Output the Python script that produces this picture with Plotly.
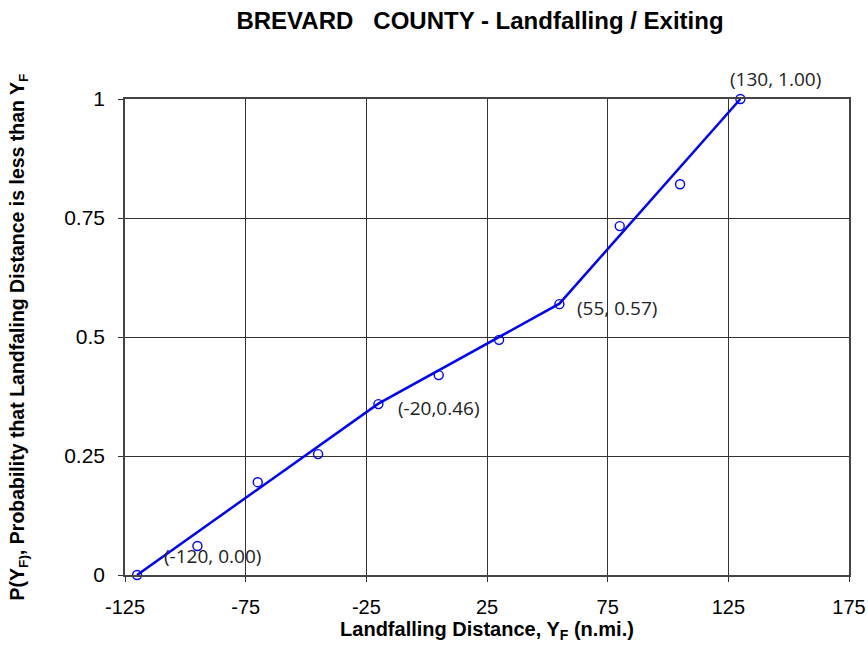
import plotly.graph_objects as go

# observed points
pt_x = [-120, -95, -70, -45, -20, 5, 30, 55, 80, 105, 130]
pt_y = [0.0, 0.061, 0.195, 0.254, 0.359, 0.42, 0.494, 0.569, 0.733, 0.821, 1.0]

# fitted piecewise line
fit_x = [-120, -20, 55, 130]
fit_y = [0.0, 0.36, 0.57, 1.0]

# labels
lab_x = [-120, -20, 55, 130]
lab_y = [0.0, 0.359, 0.569, 1.0]
lab_text = ["(-120, 0.00)", "(-20,0.46)", "(55, 0.57)", "(130, 1.00)"]
lab_dx = [25, 18, 16, -12]
lab_dy = [19, -4, -4, 20]

x_ticks = [-125, -75, -25, 25, 75, 125, 175]
x_ticklabels = ["-125", "-75", "-25", "25", "75", "125", "175"]
y_ticks = [0, 0.25, 0.5, 0.75, 1]
y_ticklabels = ["0", "0.25", "0.5", "0.75", "1"]

fig = go.Figure()
fig.add_trace(go.Scatter(x=fit_x, y=fit_y, mode="lines",
                         line=dict(color="#0000ff", width=2.5), showlegend=False,
                         cliponaxis=False))
fig.add_trace(go.Scatter(x=pt_x, y=pt_y, mode="markers",
                         marker=dict(symbol="circle-open", size=9, color="#0000ff",
                                     line=dict(width=1.4, color="#0000ff")),
                         showlegend=False, cliponaxis=False))

for x, y, t, dx, dy in zip(lab_x, lab_y, lab_text, lab_dx, lab_dy):
    fig.add_annotation(x=x, y=y, text=t, showarrow=False, xanchor="left", yanchor="middle",
                       xshift=dx, yshift=dy,
                       font=dict(family="Open Sans", size=19, color="#222222"))

fig.update_layout(
    width=868, height=658,
    margin=dict(l=125, r=19, t=99, b=83, autoexpand=False),
    paper_bgcolor="white", plot_bgcolor="white",
    title=dict(text="<b>BREVARD&nbsp;&nbsp; COUNTY - Landfalling / Exiting</b>",
               x=0.553, xanchor="center", y=0.968, yanchor="middle",
               font=dict(family="Liberation Sans", size=24, color="black")),
    font=dict(family="Liberation Sans", color="black"),
)
fig.update_xaxes(range=[-125, 175], tickvals=x_ticks, ticktext=x_ticklabels, ticks="outside",
                 ticklen=5, tickcolor="#333333", showgrid=True, gridcolor="#333333", gridwidth=1,
                 showline=True, linecolor="#444444", linewidth=1.5, mirror=True, zeroline=False,
                 automargin=False, ticklabelstandoff=8, ticklabeloverflow="allow",
                 tickfont=dict(size=20, family="Liberation Sans"),
                 title=dict(text="<b>Landfalling Distance, Y<sub>F</sub> (n.mi.)</b>",
                            font=dict(size=20, family="Liberation Sans"), standoff=3))
fig.update_yaxes(range=[0, 1], tickvals=y_ticks, ticktext=y_ticklabels, ticks="outside",
                 ticklen=5, tickcolor="#333333", showgrid=True, gridcolor="#333333", gridwidth=1,
                 showline=True, linecolor="#444444", linewidth=1.5, mirror=True, zeroline=False,
                 automargin=False, ticklabelstandoff=9,
                 tickfont=dict(size=21, family="Liberation Sans"),
                 title=dict(text="<b>P(Y<sub>F)</sub>, Probability that Landfaling Distance is less than Y<sub>F</sub></b>",
                            font=dict(size=19.5, family="Liberation Sans"), standoff=34))

fig.write_html("out.html", config={"displayModeBar": False},
               post_script="document.body.style.margin='0';document.body.style.overflow='hidden';")
